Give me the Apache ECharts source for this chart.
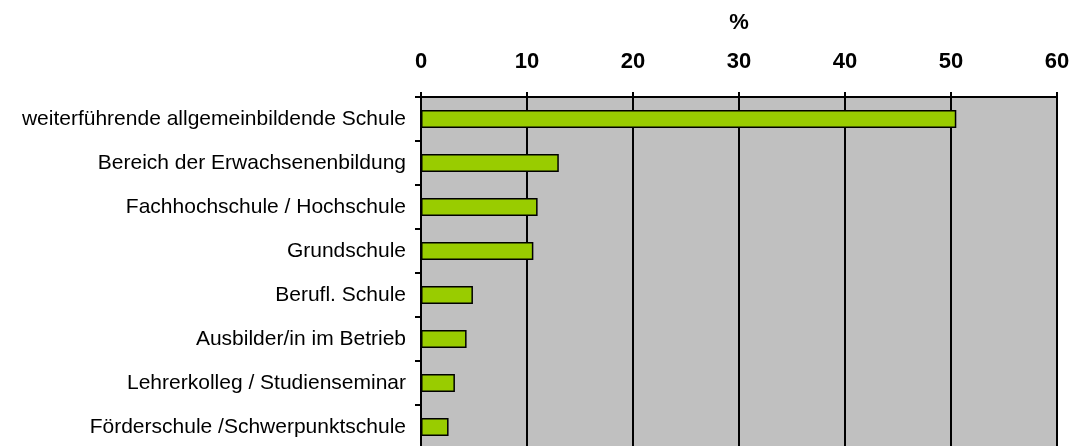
<!DOCTYPE html>
<html>
<head>
<meta charset="utf-8">
<script src="https://cdn.jsdelivr.net/npm/echarts@6/dist/echarts.min.js"></script>
<style>
  html, body { margin: 0; padding: 0; background: #fff; }
  #chart { width: 1073px; height: 446px; }
</style>
</head>
<body>
<div id="chart"></div>
<script>
(function () {
  'use strict';

  // categories, top to bottom
  var categories = [
    'weiterführende allgemeinbildende Schule',
    'Bereich der Erwachsenenbildung',
    'Fachhochschule / Hochschule',
    'Grundschule',
    'Berufl. Schule',
    'Ausbilder/in im Betrieb',
    'Lehrerkolleg / Studienseminar',
    'Förderschule /Schwerpunktschule'
  ];
  // percentages
  var values = [50.5, 13.0, 11.0, 10.6, 4.9, 4.3, 3.2, 2.6];
  var axisMin = 0, axisMax = 60, axisStep = 10;
  var axisName = '%';

  var option = {
    animation: false,
    backgroundColor: '#ffffff',
    textStyle: { fontFamily: 'Liberation Sans, Arial, sans-serif' },
    grid: {
      left: 421, right: 16, top: 97, height: 352,
      outerBoundsMode: 'none',
      show: true, backgroundColor: '#c0c0c0', borderWidth: 0
    },
    xAxis: {
      type: 'value',
      position: 'top',
      min: axisMin, max: axisMax, interval: axisStep,
      name: axisName,
      nameLocation: 'middle',
      nameGap: 63,
      nameTextStyle: { fontSize: 22, fontWeight: 'bold', color: '#000' },
      axisLine: { show: true, lineStyle: { color: '#000', width: 2 } },
      axisTick: { show: true, length: 5, lineStyle: { color: '#000', width: 2 } },
      axisLabel: { fontSize: 22, fontWeight: 'bold', color: '#000', margin: 24 },
      splitLine: { show: true, lineStyle: { color: '#000', width: 2 } }
    },
    yAxis: {
      type: 'category',
      inverse: true,
      data: categories,
      axisLine: { show: true, lineStyle: { color: '#000', width: 2 } },
      axisTick: { show: true, length: 6, lineStyle: { color: '#000', width: 2 } },
      axisLabel: { fontSize: 21, color: '#000', margin: 15 },
      splitLine: { show: false }
    },
    series: [{
      type: 'bar',
      data: values,
      barWidth: 18,
      itemStyle: { color: '#99cc00', borderColor: '#000', borderWidth: 1.5 }
    }]
  };

  var myChart = echarts.init(document.getElementById('chart'));
  myChart.setOption(option);
})();
</script>
</body>
</html>
